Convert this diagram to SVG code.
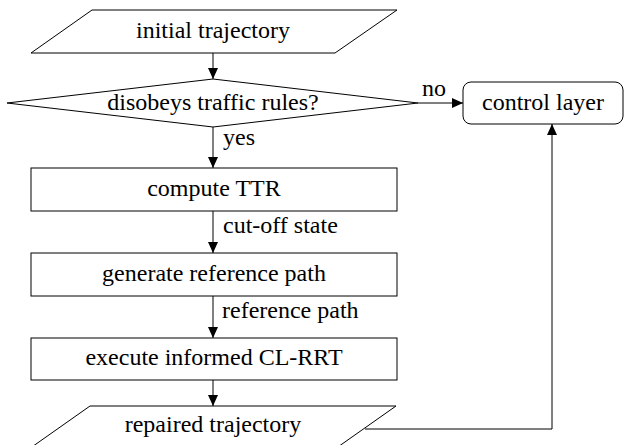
<svg xmlns="http://www.w3.org/2000/svg" width="624" height="445" viewBox="0 0 624 445">
<style>
.s{fill:#fff;stroke:#000;stroke-width:1}
.t{font-family:"Liberation Serif","Times New Roman",serif;font-size:24px;fill:#000}
.m{text-anchor:middle}
.c{fill:none;stroke:#000;stroke-width:1}
</style>
<defs>
<marker id="ah" markerUnits="userSpaceOnUse" markerWidth="12" markerHeight="10" refX="11" refY="5" orient="auto">
<path d="M0,0 L11,5 L0,10 Z" fill="#000"/>
</marker>
</defs>
<rect width="624" height="445" fill="#fff"/>
<g id="connectors">
<path class="c" d="M213,53 V79" marker-end="url(#ah)"/>
<path class="c" d="M213,127 V168" marker-end="url(#ah)"/>
<path class="c" d="M213,211 V253" marker-end="url(#ah)"/>
<path class="c" d="M213,296 V338" marker-end="url(#ah)"/>
<path class="c" d="M213,380 V406" marker-end="url(#ah)"/>
<path class="c" d="M418,103 H463" marker-end="url(#ah)"/>
<path class="c" d="M365,429 H552 V124" marker-end="url(#ah)"/>
<text class="t" x="223" y="145">yes</text>
<text class="t" x="422" y="96">no</text>
<text class="t" x="223" y="233">cut-off state</text>
<text class="t" x="222" y="318">reference path</text>
</g>
<g id="initial">
<polygon class="s" points="92,10 397,10 335,53 31,53"/>
<text class="t m" x="213" y="38">initial trajectory</text>
</g>
<g id="decision">
<polygon class="s" points="213,79 418,103 213,127 7,103"/>
<text class="t m" x="213" y="110">disobeys traffic rules?</text>
</g>
<g id="control">
<rect class="s" x="463" y="82" width="160" height="42" rx="8"/>
<text class="t m" x="543" y="110">control layer</text>
</g>
<g id="ttr">
<rect class="s" x="31" y="168" width="366" height="43"/>
<text class="t m" x="214" y="196">compute TTR</text>
</g>
<g id="refpath">
<rect class="s" x="31" y="253" width="366" height="43"/>
<text class="t m" x="214" y="281">generate reference path</text>
</g>
<g id="clrrt">
<rect class="s" x="31" y="338" width="366" height="42"/>
<text class="t m" x="214" y="365">execute informed CL-RRT</text>
</g>
<g id="repaired">
<polygon class="s" points="90,406 396,406 335,449 29,449"/>
<text class="t m" x="213" y="432">repaired trajectory</text>
</g>
</svg>
